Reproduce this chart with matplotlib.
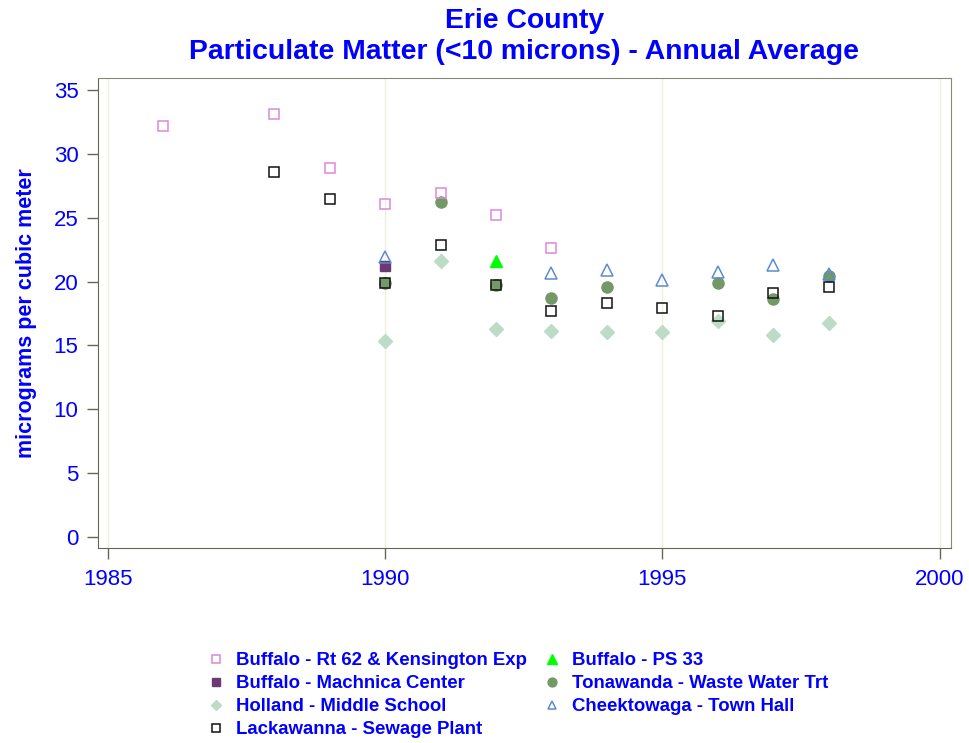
import matplotlib
matplotlib.use("Agg")
import matplotlib.pyplot as plt

plt.rcParams['font.family'] = ['Liberation Sans', 'DejaVu Sans']

# Data
rt62_years = [1986, 1988, 1989, 1990, 1991, 1992, 1993]
rt62_vals = [32.2, 33.1, 28.9, 26.1, 26.9, 25.2, 22.6]

machnica_years = [1990]
machnica_vals = [21.2]

holland_years = [1990, 1991, 1992, 1993, 1994, 1995, 1996, 1997, 1998]
holland_vals = [15.35, 21.6, 16.3, 16.1, 16.05, 16.05, 16.9, 15.8, 16.75]

lacka_years = [1988, 1989, 1990, 1991, 1992, 1993, 1994, 1995, 1996, 1997, 1998]
lacka_vals = [28.6, 26.5, 19.9, 22.9, 19.7, 17.7, 18.3, 17.9, 17.3, 19.1, 19.6]

ps33_years = [1992]
ps33_vals = [21.6]

tona_years = [1990, 1991, 1992, 1993, 1994, 1996, 1997, 1998]
tona_vals = [19.9, 26.2, 19.7, 18.7, 19.6, 19.9, 18.6, 20.4]

cheek_years = [1990, 1993, 1994, 1995, 1996, 1997, 1998]
cheek_vals = [21.9, 20.7, 20.9, 20.1, 20.75, 21.3, 20.6]

xticks = [1985, 1990, 1995, 2000]
yticks = [0, 5, 10, 15, 20, 25, 30, 35]

blue = '#0000FF'

fig = plt.figure(figsize=(9.69, 7.43), dpi=100)
ax = fig.add_axes([0.101, 0.2624, 0.880, 0.6326])

for x in xticks:
    ax.axvline(x, color='#EEEEDD', lw=1.0, zorder=0)

ms = 7.5
h1, = ax.plot(rt62_years, rt62_vals, 's', ms=ms, mfc='none', mec='#DD88DD', mew=1.1, label='Buffalo - Rt 62 & Kensington Exp', zorder=3)
h2, = ax.plot(machnica_years, machnica_vals, 's', ms=ms, mfc='#6B3A75', mec='#6B3A75', label='Buffalo - Machnica Center', zorder=3)
h3, = ax.plot(holland_years, holland_vals, 'D', ms=7, mfc='#BCDCC8', mec='#BCDCC8', label='Holland - Middle School', zorder=2)
h5, = ax.plot(ps33_years, ps33_vals, '^', ms=8.5, mfc='#00FF00', mec='#00FF00', label='Buffalo - PS 33', zorder=3)
h6, = ax.plot(tona_years, tona_vals, 'o', ms=8, mfc='#739966', mec='#739966', label='Tonawanda - Waste Water Trt', zorder=2)
h7, = ax.plot(cheek_years, cheek_vals, '^', ms=8, mfc='none', mec='#5B8BD0', mew=1.1, label='Cheektowaga - Town Hall', zorder=3)
h4, = ax.plot(lacka_years, lacka_vals, 's', ms=ms, mfc='none', mec='#111111', mew=1.1, label='Lackawanna - Sewage Plant', zorder=4)

ax.set_xlim(1984.82, 2000.2)
ax.set_ylim(-0.86, 35.94)
ax.set_xticks(xticks)
ax.set_yticks(yticks)
ax.tick_params(axis='both', colors='#666655', labelcolor=blue, labelsize=16, direction='out', length=8, width=1)
ax.tick_params(axis='x', pad=7)
ax.tick_params(axis='y', pad=6)
for s in ax.spines.values():
    s.set_color('#888877')
ax.spines['left'].set_color('#666655')
ax.spines['bottom'].set_color('#666655')

ax.set_ylabel('micrograms per cubic meter', color=blue, fontsize=15.5, fontweight='bold', labelpad=12)

tx = 0.101 + 0.880 / 2
fig.text(tx, 0.972, 'Erie County', ha='center', va='center', color=blue, fontsize=20.4, fontweight='bold')
fig.text(tx, 0.9295, 'Particulate Matter (<10 microns) - Annual Average', ha='center', va='center', color=blue, fontsize=20.4, fontweight='bold')

handles = [h1, h2, h3, h4, h5, h6, h7]
leg = fig.legend(handles=handles, labels=[h.get_label() for h in handles], ncol=2,
                 loc='center', bbox_to_anchor=(0.535, 0.064), frameon=False,
                 prop={'weight': 'bold', 'size': 13.4}, handlelength=0.8, handletextpad=0.7,
                 columnspacing=0.9, labelspacing=0.32, markerscale=0.8)
for t in leg.get_texts():
    t.set_color(blue)

fig.savefig('out.png', dpi=100)
